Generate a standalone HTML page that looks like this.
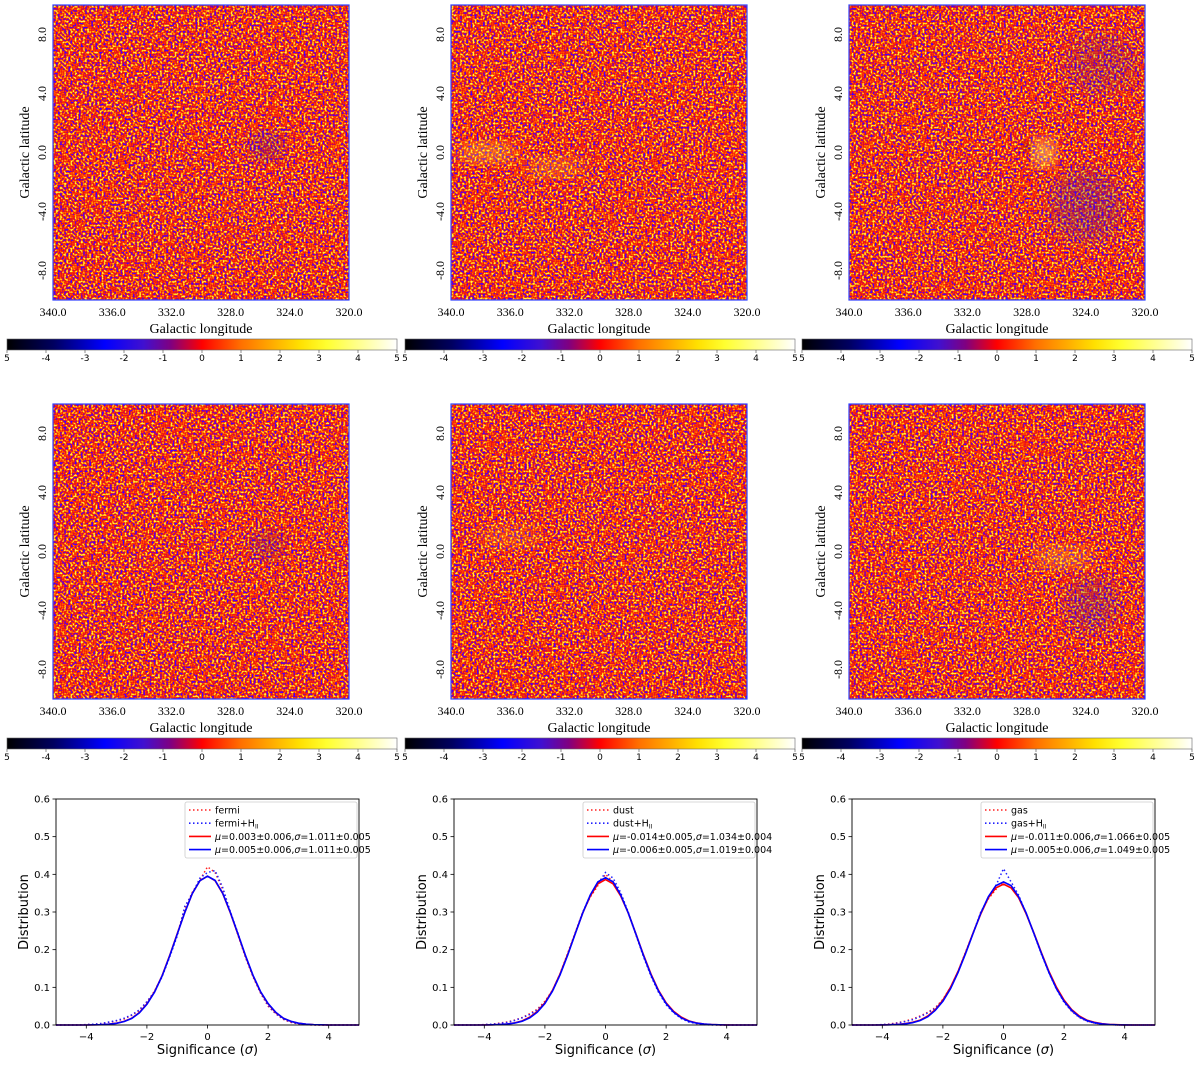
<!DOCTYPE html>
<html><head><meta charset="utf-8"><style>
body{margin:0;background:#fff;width:1200px;height:1060px;overflow:hidden}
svg text{font-family:"Liberation Serif",serif}
.s{font-family:"DejaVu Sans","Liberation Sans",sans-serif}
</style></head><body>
<svg id="fig" width="1200" height="1060" viewBox="0 0 1200 1060" xmlns="http://www.w3.org/2000/svg">
<defs>
<filter id="noise" x="0" y="0" width="100%" height="100%" filterUnits="objectBoundingBox" color-interpolation-filters="sRGB">
<feTurbulence type="fractalNoise" baseFrequency="0.48" numOctaves="1" seed="3" result="t"/>
<feColorMatrix in="t" type="matrix" values="2.6 0 0 0 -0.8  2.6 0 0 0 -0.8  2.6 0 0 0 -0.8  0 0 0 0 1"/>
<feComponentTransfer>
<feFuncR type="table" tableValues="0.25 0.4 0.85 0.93 0.98 1 1 1 1"/>
<feFuncG type="table" tableValues="0 0 0.03 0.07 0.16 0.3 0.5 0.75 0.95"/>
<feFuncB type="table" tableValues="1 0.9 0.2 0.08 0.03 0 0 0.05 0.3"/>
</feComponentTransfer>
</filter>
<filter id="blur"><feGaussianBlur stdDeviation="8"/></filter>
<linearGradient id="cmap" x1="0" x2="1" y1="0" y2="0">
<stop offset="0" stop-color="#000"/><stop offset="0.12" stop-color="#000060"/>
<stop offset="0.25" stop-color="#0000ff"/><stop offset="0.35" stop-color="#4010d0"/>
<stop offset="0.42" stop-color="#800080"/><stop offset="0.5" stop-color="#ff0000"/>
<stop offset="0.6" stop-color="#ff7000"/><stop offset="0.75" stop-color="#ffe000"/>
<stop offset="0.82" stop-color="#ffff30"/><stop offset="1" stop-color="#ffffff"/>
</linearGradient>
</defs>
<g id="maps"></g>
<g id="hists"></g>
</svg>
<script>
// ---- Map panels ----
const mapLatTicks = [8.0, 4.0, 0.0, -4.0, -8.0];
const mapLonTicks = [340.0, 336.0, 332.0, 328.0, 324.0, 320.0];
const cbarTicks = [-5, -4, -3, -2, -1, 0, 1, 2, 3, 4, 5];
const NS = "http://www.w3.org/2000/svg";
function mk(tag, attrs, parent, txt){const e=document.createElementNS(NS,tag);for(const k in attrs)e.setAttribute(k,attrs[k]);if(txt!==undefined)e.textContent=txt;parent.appendChild(e);return e;}
const mapsG=document.getElementById('maps');
const cols=[{mx:53,cb:7},{mx:451,cb:405},{mx:849,cb:802}];
const rows=[{my:5,cby:339},{my:404,cby:738}];
// blobs: [col,row,cx,cy,rx,ry,color,opacity] relative fractions
const blobs=[
[0,0,0.72,0.48,0.06,0.05,'#2010c0',0.25],
[1,0,0.12,0.5,0.1,0.035,'#ffe040',0.4],[1,0,0.35,0.55,0.1,0.035,'#ffd030',0.3],
[2,0,0.66,0.5,0.04,0.05,'#ffff80',0.55],[2,0,0.6,0.48,0.015,0.015,'#000',0.7],[2,0,0.8,0.68,0.12,0.12,'#2020d0',0.25],[2,0,0.85,0.2,0.12,0.1,'#3020c0',0.18],
[0,1,0.72,0.48,0.06,0.05,'#2010c0',0.22],
[1,1,0.2,0.45,0.1,0.04,'#ffd040',0.2],
[2,1,0.72,0.52,0.1,0.04,'#ffe040',0.3],[2,1,0.82,0.68,0.09,0.09,'#2020d0',0.22]];
rows.forEach((r,ri)=>cols.forEach((c,ci)=>{
 const g=mk('g',{},mapsG);
 
 
 const W=296,H=295,x0=c.mx,y0=r.my;
 mk('rect',{x:x0,y:y0,width:W,height:H,fill:'#e03018'},g);
 mk('rect',{x:x0,y:y0,width:W,height:H,filter:'url(#noise)'},g);
 blobs.filter(b=>b[0]===ci&&b[1]===ri).forEach(b=>{
  mk('ellipse',{cx:x0+b[2]*W,cy:y0+b[3]*H,rx:b[4]*W,ry:b[5]*H,fill:b[6],opacity:b[7],filter:'url(#blur)'},g);
 });
 mk('rect',{x:x0,y:y0,width:W,height:H,fill:'none',stroke:'#3040ff','stroke-width':1.2},g);
 const ly=v=>y0+(10-v)/20*H, lx=v=>x0+(340-v)/20*W;
 mapLatTicks.forEach(v=>{const t=mk('text',{x:0,y:0,'font-size':12,'text-anchor':'middle',transform:`translate(${x0-7},${ly(v)}) rotate(-90)`},g,v.toFixed(1));
  });
 mapLonTicks.forEach(v=>{const t=mk('text',{x:lx(v),y:y0+H+16,'font-size':12,'text-anchor':'middle'},g,v.toFixed(1));
  });
 const yt=mk('text',{x:0,y:0,'font-size':14,'text-anchor':'middle',transform:`translate(${x0-24},${y0+H/2}) rotate(-90)`},g,'Galactic latitude');
 
 const xt=mk('text',{x:x0+W/2,y:y0+H+33,'font-size':14,'text-anchor':'middle'},g,'Galactic longitude');
 
 // colorbar
 const cg=mk('g',{},g);
 
 const CW=390;
 mk('rect',{x:c.cb,y:r.cby,width:CW,height:11,fill:'url(#cmap)',stroke:'#666','stroke-width':0.6},cg);
 cbarTicks.forEach(v=>{const tx=c.cb+(v+5)/10*CW;
  mk('line',{x1:tx,x2:tx,y1:r.cby+11,y2:r.cby+14,stroke:'#444','stroke-width':0.6},cg);
  const lab=(v===-5||v===5)?'5':String(v);
  const t=mk('text',{x:tx,y:r.cby+22,'font-size':9,'text-anchor':'middle',class:'s'},cg,lab);
  });
}));

// ---- Histogram panels ----
const sigX = [-5,-4.75,-4.5,-4.25,-4,-3.75,-3.5,-3.25,-3,-2.75,-2.5,-2.25,-2,-1.75,-1.5,-1.25,-1,-0.75,-0.5,-0.25,0,0.25,0.5,0.75,1,1.25,1.5,1.75,2,2.25,2.5,2.75,3,3.25,3.5,3.75,4,4.25,4.5,4.75,5];
const fermiData = [0,0,0,0,0.001,0.002,0.004,0.007,0.011,0.016,0.026,0.038,0.06,0.09,0.13,0.183,0.24,0.31,0.352,0.385,0.42,0.405,0.36,0.3,0.24,0.18,0.128,0.085,0.05,0.03,0.015,0.007,0.003,0.001,0,0,0,0,0,0,0];
const fermiHData = [0,0,0,0,0.001,0.002,0.004,0.008,0.012,0.018,0.027,0.04,0.062,0.088,0.128,0.18,0.236,0.315,0.348,0.39,0.405,0.41,0.365,0.302,0.245,0.182,0.13,0.086,0.052,0.03,0.016,0.008,0.003,0.001,0,0,0,0,0,0,0];
const fermiFit = [0,0,0,0,0.0001,0.0004,0.0009,0.0021,0.0047,0.0095,0.018,0.033,0.056,0.088,0.131,0.184,0.242,0.299,0.349,0.383,0.395,0.383,0.349,0.299,0.242,0.184,0.131,0.088,0.056,0.033,0.018,0.0095,0.0047,0.0021,0.0009,0.0004,0.0001,0,0,0,0];
const fermiHFit = [0,0,0,0,0.0001,0.0004,0.0009,0.002,0.0045,0.0092,0.0175,0.032,0.055,0.087,0.13,0.183,0.241,0.299,0.349,0.383,0.395,0.384,0.35,0.3,0.243,0.185,0.132,0.089,0.057,0.034,0.018,0.0097,0.0048,0.0022,0.0009,0.0004,0.0001,0,0,0,0];
const dustData = [0,0,0,0,0.001,0.002,0.005,0.008,0.013,0.02,0.03,0.042,0.063,0.092,0.136,0.19,0.245,0.3,0.34,0.37,0.40,0.38,0.35,0.298,0.24,0.182,0.13,0.088,0.055,0.033,0.018,0.009,0.004,0.002,0.001,0,0,0,0,0,0];
const dustHData = [0,0,0,0,0.001,0.002,0.004,0.007,0.012,0.019,0.028,0.04,0.06,0.09,0.133,0.186,0.242,0.3,0.345,0.375,0.405,0.39,0.352,0.3,0.242,0.183,0.13,0.087,0.054,0.032,0.017,0.008,0.004,0.001,0,0,0,0,0,0,0];
const dustFit = [0,0,0,0,0.0002,0.0005,0.0011,0.0026,0.0055,0.011,0.021,0.036,0.059,0.092,0.135,0.187,0.243,0.298,0.343,0.375,0.386,0.375,0.343,0.298,0.243,0.187,0.135,0.092,0.059,0.036,0.021,0.011,0.0055,0.0026,0.0011,0.0005,0.0002,0,0,0,0];
const dustHFit = [0,0,0,0,0.0001,0.0004,0.001,0.0023,0.005,0.01,0.019,0.034,0.057,0.09,0.133,0.185,0.242,0.298,0.346,0.38,0.391,0.38,0.346,0.298,0.242,0.185,0.133,0.09,0.057,0.034,0.019,0.01,0.005,0.0023,0.001,0.0004,0.0001,0,0,0,0];
const gasData = [0,0,0,0,0.001,0.003,0.006,0.01,0.016,0.024,0.034,0.046,0.068,0.1,0.142,0.194,0.245,0.3,0.335,0.36,0.38,0.37,0.34,0.295,0.244,0.19,0.14,0.097,0.062,0.037,0.021,0.011,0.005,0.002,0.001,0,0,0,0,0,0];
const gasHData = [0,0,0,0,0.001,0.002,0.005,0.009,0.014,0.022,0.032,0.044,0.066,0.098,0.14,0.19,0.244,0.298,0.34,0.37,0.415,0.38,0.345,0.296,0.243,0.188,0.138,0.095,0.06,0.036,0.02,0.01,0.005,0.002,0.001,0,0,0,0,0,0];
const gasFit = [0,0,0,0,0.0003,0.0007,0.0016,0.0035,0.0071,0.013,0.024,0.041,0.066,0.1,0.142,0.192,0.245,0.295,0.338,0.364,0.374,0.364,0.338,0.295,0.245,0.192,0.142,0.1,0.066,0.041,0.024,0.013,0.0071,0.0035,0.0016,0.0007,0.0003,0,0,0,0];
const gasHFit = [0,0,0,0,0.0002,0.0006,0.0013,0.003,0.0062,0.012,0.022,0.039,0.063,0.096,0.139,0.19,0.244,0.297,0.341,0.37,0.38,0.37,0.341,0.297,0.244,0.19,0.139,0.096,0.063,0.039,0.022,0.012,0.0062,0.003,0.0013,0.0006,0.0002,0,0,0,0];
const xTicks = [-4, -2, 0, 2, 4];
const yTicks = [0.0, 0.1, 0.2, 0.3, 0.4, 0.5, 0.6];
const panels = [
 {x0:56, name:'fermi', d:fermiData, dh:fermiHData, f:fermiFit, fh:fermiHFit, l:['fermi','fermi+H','0.003±0.006,','0.005±0.006,'], s:['1.011±0.005','1.011±0.005']},
 {x0:454, name:'dust', d:dustData, dh:dustHData, f:dustFit, fh:dustHFit, l:['dust','dust+H','-0.014±0.005,','-0.006±0.005,'], s:['1.034±0.004','1.019±0.004']},
 {x0:852, name:'gas', d:gasData, dh:gasHData, f:gasFit, fh:gasHFit, l:['gas','gas+H','-0.011±0.006,','-0.005±0.006,'], s:['1.066±0.005','1.049±0.005']}];
const hG=document.getElementById('hists');
panels.forEach(p=>{
 const W=303,Y0=799,H=226;
 const sx=v=>p.x0+(v+5)/10*W, sy=v=>Y0+H-v/0.6*H;
 const g=mk('g',{},hG);
 
 
 const path=arr=>arr.map((v,i)=>(i?'L':'M')+sx(sigX[i]).toFixed(1)+','+sy(v).toFixed(1)).join('');
 const s1=mk('path',{d:path(p.d),fill:'none',stroke:'#ff2020','stroke-width':1.5,'stroke-dasharray':'1.5,2.5'},g);
 
 const s2=mk('path',{d:path(p.dh),fill:'none',stroke:'#2020ff','stroke-width':1.5,'stroke-dasharray':'1.5,2.5'},g);
 
 const s3=mk('path',{d:path(p.f),fill:'none',stroke:'#ff0000','stroke-width':1.6},g);
 
 const s4=mk('path',{d:path(p.fh),fill:'none',stroke:'#0000ff','stroke-width':1.6},g);
 
 mk('rect',{x:p.x0,y:Y0,width:W,height:H,fill:'none',stroke:'#000','stroke-width':0.9},g);
 xTicks.forEach(v=>{mk('line',{x1:sx(v),x2:sx(v),y1:Y0+H,y2:Y0+H+3.5,stroke:'#000','stroke-width':0.8},g);
  const t=mk('text',{x:sx(v),y:Y0+H+15,'font-size':10,'text-anchor':'middle',class:'s'},g,v<0?'−'+(-v):String(v));
  });
 yTicks.forEach(v=>{mk('line',{x1:p.x0-3.5,x2:p.x0,y1:sy(v),y2:sy(v),stroke:'#000','stroke-width':0.8},g);
  const t=mk('text',{x:p.x0-6,y:sy(v)+3.5,'font-size':10,'text-anchor':'end',class:'s'},g,v.toFixed(1));
  });
 const xt=mk('text',{x:p.x0+W/2,y:1054,'font-size':13,'text-anchor':'middle',class:'s'},g,'Significance (');
 mk('tspan',{'font-style':'italic'},xt,'σ');mk('tspan',{},xt,')');
 
 const yt=mk('text',{x:0,y:0,'font-size':13,'text-anchor':'middle',class:'s',transform:`translate(${p.x0-28},${Y0+H/2}) rotate(-90)`},g,'Distribution');
 
 // legend
 const lg=mk('g',{},g);
 
 const lx=p.x0+129;
 mk('rect',{x:lx,y:802,width:172,height:56,fill:'#fff',stroke:'#ccc','stroke-width':0.8,rx:2},lg);
 const styles=[['#ff2020','1.5,2.5'],['#2020ff','1.5,2.5'],['#ff0000',''],['#0000ff','']];
 styles.forEach((s,i)=>{const yy=810+i*13.2;
  const a={x1:lx+4,x2:lx+26,y1:yy,y2:yy,stroke:s[0],'stroke-width':1.6};if(s[1])a['stroke-dasharray']=s[1];
  mk('line',a,lg);
  const t=mk('text',{x:lx+30,y:yy+3.5,'font-size':9.5,class:'s'},lg,i<2?p.l[i]:'');
  if(i===1){mk('tspan',{'font-size':6,dy:2},t,'II');}
  if(i>=2){mk('tspan',{'font-style':'italic'},t,'μ');mk('tspan',{},t,'='+p.l[i]);mk('tspan',{'font-style':'italic'},t,'σ');mk('tspan',{},t,'='+p.s[i-2]);}
  });
});
</script>
</body></html>
